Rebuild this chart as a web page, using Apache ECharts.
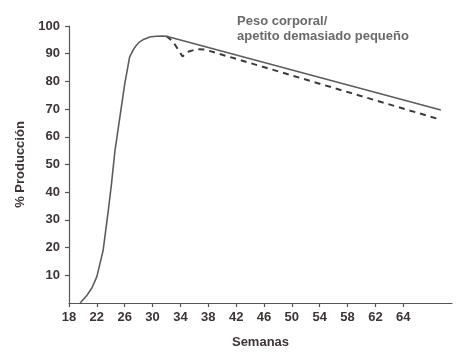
<!DOCTYPE html>
<html>
<head>
<meta charset="utf-8">
<script src="https://cdn.jsdelivr.net/npm/echarts@6/dist/echarts.min.js"></script>
<style>html,body{margin:0;padding:0;background:#fff;}#c{width:475px;height:362px;}</style>
</head>
<body>
<div id="c"></div>
<script>
// Weeks and % production, solid (normal) curve
const solidWeeks = [19.6, 20.5, 21.3, 22, 22.9, 23.6, 24.1, 24.6, 25.3, 26, 26.7, 27.2, 27.6, 28.1, 28.6, 29.6, 30.5, 31.4, 32, 71.4];
const solidValues = [0, 2.5, 5.5, 9.5, 19, 32.5, 43, 55, 67, 79, 88.8, 91.3, 92.8, 94.2, 95, 96, 96.3, 96.4, 96.3, 69.7];
// Dashed curve: body weight / appetite too small
const dashWeeks = [32, 32.9, 34.3, 35.2, 36.3, 37.5, 71.2];
const dashValues = [96.3, 94.5, 89, 90.8, 91.6, 91.5, 66.3];
// Axis ticks and labels
const xTickValues = [18, 22, 26, 30, 34, 38, 42, 46, 50, 54, 58, 62, 66];
const xTickLabels = ['18', '22', '26', '30', '34', '38', '42', '46', '50', '54', '58', '62', '64'];
const yTickValues = [10, 20, 30, 40, 50, 60, 70, 80, 90, 100];
const annotationLines = ['Peso corporal/', 'apetito demasiado pequeño'];

const toPairs = (xs, ys) => xs.map((x, i) => [x, ys[i]]);
const chart = echarts.init(document.getElementById('c'), null, {renderer: 'canvas'});
const axisColor = '#5a5454';
const labelStyle = {color: '#3d3535', fontFamily: 'Liberation Sans, Arial, sans-serif', fontWeight: 'bold', fontSize: 13};
chart.setOption({
  animation: false,
  backgroundColor: '#ffffff',
  grid: {left: 69, right: 23, top: 26, bottom: 59, containLabel: false},
  xAxis: {
    type: 'value', min: 18, max: 73,
    name: 'Semanas', nameLocation: 'middle', nameGap: 33,
    nameTextStyle: labelStyle,
    axisLine: {show: true, onZero: false, lineStyle: {color: axisColor, width: 1.2}},
    axisTick: {show: true, length: 4, customValues: xTickValues, lineStyle: {color: axisColor, width: 1.2}},
    axisLabel: Object.assign({}, labelStyle, {
      customValues: xTickValues, margin: 8,
      formatter: v => { const i = xTickValues.indexOf(v); return i >= 0 ? xTickLabels[i] : ''; }
    }),
    splitLine: {show: false}
  },
  yAxis: {
    type: 'value', min: 0, max: 100,
    name: '% Producción', nameLocation: 'middle', nameGap: 40, nameRotate: 90,
    nameTextStyle: labelStyle,
    axisLine: {show: true, lineStyle: {color: axisColor, width: 1.2}},
    axisTick: {show: true, length: 4, customValues: yTickValues, lineStyle: {color: axisColor, width: 1.2}},
    axisLabel: Object.assign({}, labelStyle, {customValues: yTickValues, margin: 9}),
    splitLine: {show: false}
  },
  graphic: [{
    type: 'text', left: 237, top: 14,
    style: {text: annotationLines.join('\n'), fill: '#6a6a6a', font: 'bold 13px "Liberation Sans", Arial, sans-serif', lineHeight: 15}
  }],
  series: [{
    type: 'line', data: toPairs(solidWeeks, solidValues), showSymbol: false, smooth: false,
    lineStyle: {color: '#5c5c5c', width: 1.6}, z: 3
  }, {
    type: 'line', data: toPairs(dashWeeks, dashValues), showSymbol: false, smooth: false,
    lineStyle: {color: '#3a3a3a', width: 2, type: [6, 5]}, z: 2
  }]
});
</script>
</body>
</html>
